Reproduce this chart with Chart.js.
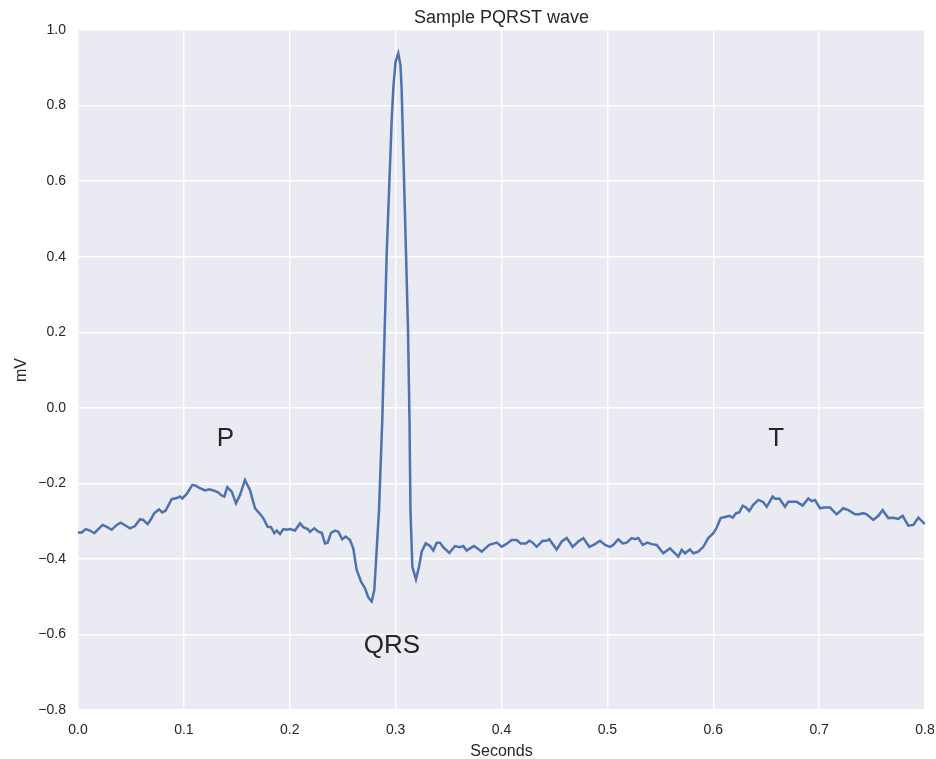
<!DOCTYPE html>
<html>
<head>
<meta charset="utf-8">
<script src="https://cdn.jsdelivr.net/npm/chart.js@4"></script>
<style>
html,body{margin:0;padding:0;background:#fff;}
canvas{display:block;}
</style>
</head>
<body>
<canvas id="c" width="936" height="759"></canvas>
<script>
const chartTitle = "Sample PQRST wave";
const xLabel = "Seconds";
const yLabel = "mV";

const seconds = [
0.0000,0.0035,0.0073,0.0113,0.0154,0.0192,0.0233,0.0277,0.0318,0.0366,
0.0403,0.0444,0.0491,0.0538,0.0586,0.0617,0.0658,0.0689,0.0721,0.0765,
0.0796,0.0828,0.0885,0.0932,0.0963,0.0985,0.1027,0.1080,0.1112,0.1152,
0.1200,0.1240,0.1278,0.1319,0.1357,0.1382,0.1410,0.1452,0.1492,0.1530,
0.1577,0.1625,0.1672,0.1719,0.1750,0.1792,0.1823,0.1854,0.1877,0.1908,
0.1939,0.1971,0.2002,0.2050,0.2097,0.2128,0.2170,0.2191,0.2232,0.2270,
0.2302,0.2333,0.2358,0.2390,0.2427,0.2459,0.2496,0.2528,0.2569,0.2600,
0.2632,0.2673,0.2711,0.2742,0.2774,0.2799,0.2821,0.2843,0.2874,0.2916,
0.2963,0.2980,0.2999,0.3025,0.3046,0.3057,0.3072,0.3098,0.3117,0.3131,
0.3140,0.3158,0.3192,0.3221,0.3246,0.3284,0.3325,0.3356,0.3388,0.3419,
0.3450,0.3507,0.3561,0.3608,0.3639,0.3671,0.3703,0.3740,0.3771,0.3813,
0.3885,0.3955,0.4002,0.4043,0.4096,0.4144,0.4181,0.4231,0.4263,0.4295,
0.4332,0.4389,0.4427,0.4451,0.4521,0.4569,0.4616,0.4672,0.4725,0.4773,
0.4829,0.4883,0.4930,0.4978,0.5025,0.5056,0.5103,0.5145,0.5182,0.5230,
0.5261,0.5292,0.5334,0.5377,0.5419,0.5466,0.5528,0.5591,0.5670,0.5702,
0.5733,0.5780,0.5812,0.5859,0.5906,0.5953,0.6001,0.6033,0.6070,0.6111,
0.6152,0.6184,0.6215,0.6246,0.6278,0.6309,0.6340,0.6378,0.6426,0.6473,
0.6505,0.6561,0.6583,0.6624,0.6678,0.6709,0.6788,0.6845,0.6898,0.6930,
0.6961,0.7008,0.7046,0.7103,0.7166,0.7228,0.7276,0.7339,0.7379,0.7417,
0.7449,0.7512,0.7559,0.7600,0.7653,0.7701,0.7748,0.7789,0.7842,0.7890,
0.7937,0.8000
];

const millivolts = [
-0.330,-0.330,-0.321,-0.325,-0.332,-0.321,-0.310,-0.316,-0.323,-0.310,
-0.304,-0.311,-0.319,-0.313,-0.295,-0.297,-0.308,-0.295,-0.279,-0.269,
-0.277,-0.272,-0.242,-0.239,-0.235,-0.240,-0.228,-0.204,-0.206,-0.213,
-0.219,-0.216,-0.219,-0.223,-0.232,-0.235,-0.210,-0.222,-0.253,-0.231,
-0.191,-0.218,-0.266,-0.281,-0.292,-0.315,-0.316,-0.332,-0.325,-0.334,
-0.321,-0.323,-0.321,-0.325,-0.306,-0.316,-0.321,-0.328,-0.319,-0.328,
-0.331,-0.359,-0.357,-0.331,-0.325,-0.328,-0.348,-0.341,-0.350,-0.372,
-0.429,-0.460,-0.478,-0.502,-0.513,-0.482,-0.376,-0.271,-0.032,0.410,
0.762,0.854,0.915,0.938,0.907,0.841,0.682,0.410,0.206,-0.032,
-0.271,-0.421,-0.454,-0.421,-0.381,-0.359,-0.366,-0.378,-0.357,-0.357,
-0.369,-0.384,-0.366,-0.369,-0.366,-0.378,-0.372,-0.366,-0.372,-0.381,
-0.363,-0.357,-0.368,-0.361,-0.350,-0.350,-0.359,-0.359,-0.352,-0.357,
-0.368,-0.352,-0.352,-0.348,-0.375,-0.354,-0.345,-0.368,-0.354,-0.345,
-0.368,-0.361,-0.352,-0.363,-0.368,-0.363,-0.348,-0.359,-0.357,-0.345,
-0.348,-0.345,-0.363,-0.357,-0.361,-0.363,-0.385,-0.372,-0.394,-0.376,
-0.385,-0.375,-0.385,-0.381,-0.368,-0.345,-0.332,-0.317,-0.292,-0.289,
-0.286,-0.291,-0.279,-0.277,-0.259,-0.264,-0.273,-0.257,-0.244,-0.250,
-0.262,-0.235,-0.241,-0.240,-0.262,-0.249,-0.249,-0.259,-0.240,-0.247,
-0.244,-0.266,-0.264,-0.264,-0.282,-0.266,-0.271,-0.282,-0.282,-0.279,
-0.282,-0.297,-0.286,-0.271,-0.292,-0.291,-0.294,-0.286,-0.312,-0.310,
-0.291,-0.308
];

const waveLabels = ["P", "QRS", "T"];
const waveLabelX = [0.131, 0.270, 0.652];
const waveLabelY = [-0.10, -0.65, -0.10];

const xTicks = [0.0, 0.1, 0.2, 0.3, 0.4, 0.5, 0.6, 0.7, 0.8];
const yTicks = [-0.8, -0.6, -0.4, -0.2, 0.0, 0.2, 0.4, 0.6, 0.8, 1.0];

const FONT = "'Liberation Sans', Arial, sans-serif";
const TEXT = "#262626";

function fmt(v) {
  if (Math.abs(v) < 1e-9) v = 0;
  const s = v.toFixed(1);
  return s.replace('-', '\u2212');
}

const bgPlugin = {
  id: 'bg',
  beforeDraw(chart) {
    const {ctx, chartArea: a} = chart;
    ctx.save();
    ctx.fillStyle = '#ffffff';
    ctx.fillRect(0, 0, chart.width, chart.height);
    ctx.fillStyle = '#EAEAF2';
    ctx.fillRect(a.left, a.top, a.right - a.left, a.bottom - a.top);
    ctx.restore();
  }
};

const textPlugin = {
  id: 'texts',
  afterDraw(chart) {
    const {ctx, chartArea: a, scales} = chart;
    ctx.save();
    ctx.fillStyle = TEXT;
    ctx.font = "18px " + FONT;
    ctx.textAlign = 'center';
    ctx.textBaseline = 'alphabetic';
    ctx.fillText(chartTitle, (a.left + a.right) / 2, 23);
    ctx.font = "26px " + FONT;
    ctx.textAlign = 'left';
    for (let i = 0; i < waveLabels.length; i++) {
      const px = scales.x.getPixelForValue(waveLabelX[i]);
      const py = scales.y.getPixelForValue(waveLabelY[i]);
      ctx.fillText(waveLabels[i], px, py);
    }
    ctx.restore();
  }
};

const points = seconds.map((s, i) => ({x: s, y: millivolts[i]}));

new Chart(document.getElementById('c'), {
  type: 'line',
  data: {
    datasets: [{
      data: points,
      borderColor: '#4C72B0',
      borderWidth: 2.5,
      pointRadius: 0,
      tension: 0,
      fill: false
    }]
  },
  options: {
    responsive: false,
    animation: false,
    layout: {padding: {left: 0, right: 0, top: 30, bottom: 0}},
    plugins: {
      legend: {display: false},
      tooltip: {enabled: false},
      title: {display: false}
    },
    scales: {
      x: {
        type: 'linear',
        min: 0, max: 0.8,
        afterBuildTicks(scale) { scale.ticks = xTicks.map(v => ({value: v})); },
        afterFit(scale) { scale.height = 49; scale.paddingRight = 11; },
        ticks: {
          callback: v => fmt(v),
          color: TEXT,
          font: {family: FONT, size: 14},
          padding: 12,
          maxRotation: 0,
          autoSkip: false
        },
        grid: {color: '#ffffff', lineWidth: 1.4, drawTicks: false},
        border: {display: false},
        title: {display: true, text: xLabel, color: TEXT, font: {family: FONT, size: 16}, padding: {top: 0, bottom: -2}}
      },
      y: {
        type: 'linear',
        min: -0.8, max: 1.0,
        afterBuildTicks(scale) { scale.ticks = yTicks.map(v => ({value: v})); },
        afterFit(scale) { scale.width = 78; },
        ticks: {
          callback: v => fmt(v),
          color: TEXT,
          font: {family: FONT, size: 14},
          padding: 12,
          autoSkip: false
        },
        grid: {color: '#ffffff', lineWidth: 1.4, drawTicks: false},
        border: {display: false},
        title: {display: true, text: yLabel, color: TEXT, font: {family: FONT, size: 16}, padding: {top: 12, bottom: 0}}
      }
    }
  },
  plugins: [bgPlugin, textPlugin]
});
</script>
</body>
</html>
